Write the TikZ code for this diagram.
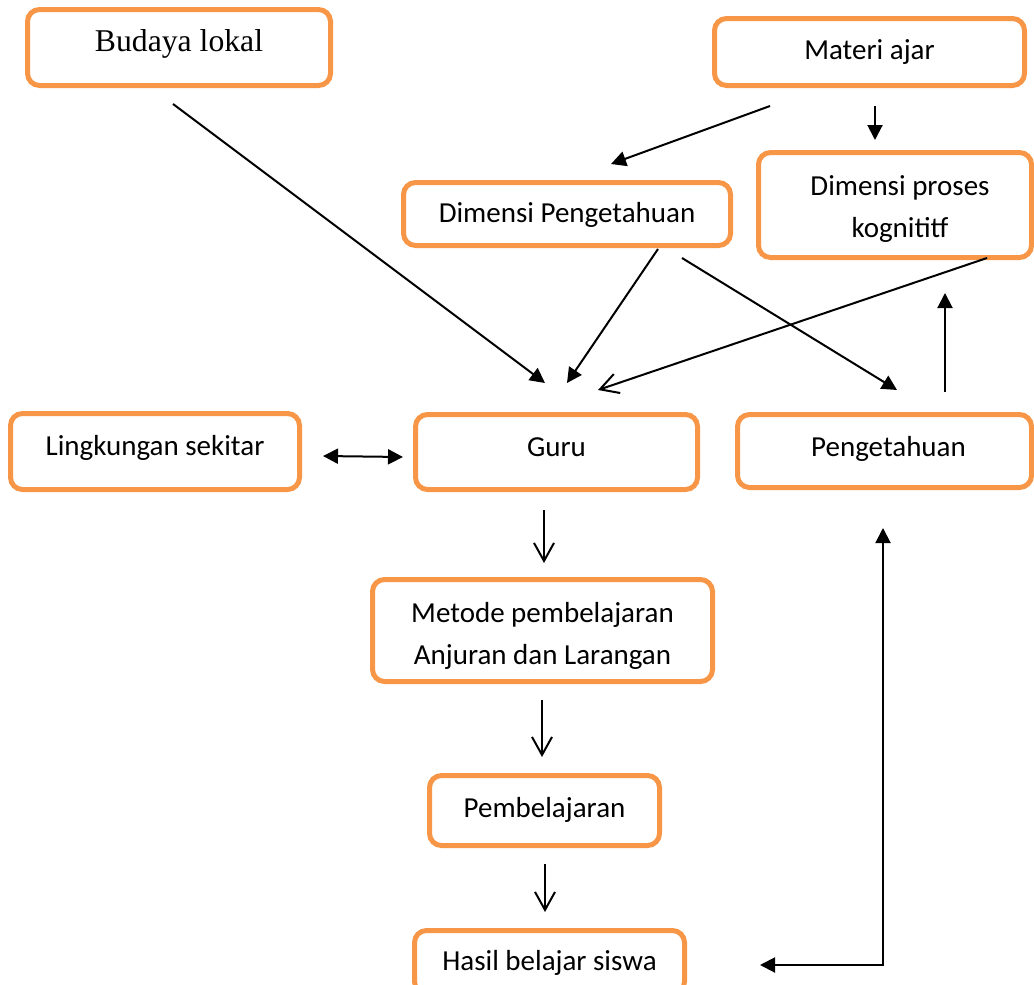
\documentclass[tikz,border=0pt]{standalone}
\usepackage{fontspec}
\setmainfont{Carlito}
\newfontfamily\tnr{Liberation Serif}
\usetikzlibrary{arrows.meta}
\definecolor{boxorange}{HTML}{F79646}
\begin{document}
\begin{tikzpicture}[x=1pt,y=-1pt,
  box/.style={draw=boxorange, line width=5pt, rounded corners=12pt, inner sep=0pt,
    text height=0pt, text depth=0pt, font=\fontsize{29}{42}\selectfont},
  conn/.style={line width=2pt, line join=miter},
  fa/.style={conn, -{Triangle[length=15pt,width=15pt]}},
  fab/.style={conn, {Triangle[length=15pt,width=15pt]}-{Triangle[length=15pt,width=15pt]}},
  oa/.style={conn, -{Straight Barb[length=18pt,width=20pt,line width=2pt]}}
]
\useasboundingbox (0,0) rectangle (1034,985);

% boxes
\node[box, minimum width=303pt, minimum height=76pt] (budaya) at (179,47.5)
  {\raisebox{-3.5pt}{\tnr\fontsize{31.7}{40}\selectfont Budaya lokal}};
\node[box, minimum width=310pt, minimum height=67pt] (materi) at (869.5,52)
  {\raisebox{-8pt}{Materi ajar}};
\node[box, minimum width=327pt, minimum height=63pt] (dimpeng) at (567,214)
  {\raisebox{-8pt}{Dimensi Pengetahuan}};
\node[box, minimum width=273pt, minimum height=105pt] (dimproses) at (895,205)
  {\hspace{10pt}\raisebox{10pt}{\begin{tabular}[t]{@{}c@{}}Dimensi proses\\ kognititf\end{tabular}}};
\node[box, minimum width=289pt, minimum height=76pt] (lingkungan) at (155,451.5)
  {\raisebox{-3.5pt}{Lingkungan sekitar}};
\node[box, minimum width=282pt, minimum height=75pt] (guru) at (556.5,452)
  {\raisebox{-4pt}{Guru}};
\node[box, minimum width=294pt, minimum height=73pt] (peng) at (884.5,451)
  {\hspace{8pt}\raisebox{-5pt}{Pengetahuan}};
\node[box, minimum width=340pt, minimum height=102pt] (metode) at (542.5,630.5)
  {\raisebox{8.5pt}{\begin{tabular}[t]{@{}c@{}}Metode pembelajaran\\ Anjuran dan Larangan\end{tabular}}};
\node[box, minimum width=230pt, minimum height=70pt] (pembel) at (544.5,810.5)
  {\raisebox{-6.5pt}{Pembelajaran}};
\node[box, minimum width=270pt, minimum height=63pt] (hasil) at (549.5,962)
  {\raisebox{-8pt}{Hasil belajar siswa}};

% connector end points
\coordinate (a1s) at (173,104);   \coordinate (a1e) at (545,383);
\coordinate (a2s) at (770,106);   \coordinate (a2e) at (611,164);
\coordinate (a3s) at (875,106);   \coordinate (a3e) at (875,140);
\coordinate (a4s) at (658,249);   \coordinate (a4e) at (567,383);
\coordinate (a5s) at (682,258);   \coordinate (a5e) at (897,390);
\coordinate (a6s) at (987,258);   \coordinate (a6e) at (598,390);
\coordinate (a7s) at (945,392);   \coordinate (a7e) at (945,293);
\coordinate (a8s) at (323,456);   \coordinate (a8e) at (403,457);
\coordinate (a9s) at (544,510);   \coordinate (a9e) at (544,563);
\coordinate (a10s) at (542,700);  \coordinate (a10e) at (542,757);
\coordinate (a11s) at (545,864);  \coordinate (a11e) at (545,912);
\coordinate (a12s) at (760,965);  \coordinate (a12m) at (883,965);  \coordinate (a12e) at (883,528);

% connectors
\draw[fa] (a1s) -- (a1e);
\draw[fa] (a2s) -- (a2e);
\draw[fa] (a3s) -- (a3e);
\draw[fa] (a4s) -- (a4e);
\draw[fa] (a5s) -- (a5e);
\draw[oa] (a6s) -- (a6e);
\draw[fa] (a7s) -- (a7e);
\draw[fab] (a8s) -- (a8e);
\draw[oa] (a9s) -- (a9e);
\draw[oa] (a10s) -- (a10e);
\draw[oa] (a11s) -- (a11e);
\draw[fab] (a12s) -- (a12m) -- (a12e);
\end{tikzpicture}
\end{document}
